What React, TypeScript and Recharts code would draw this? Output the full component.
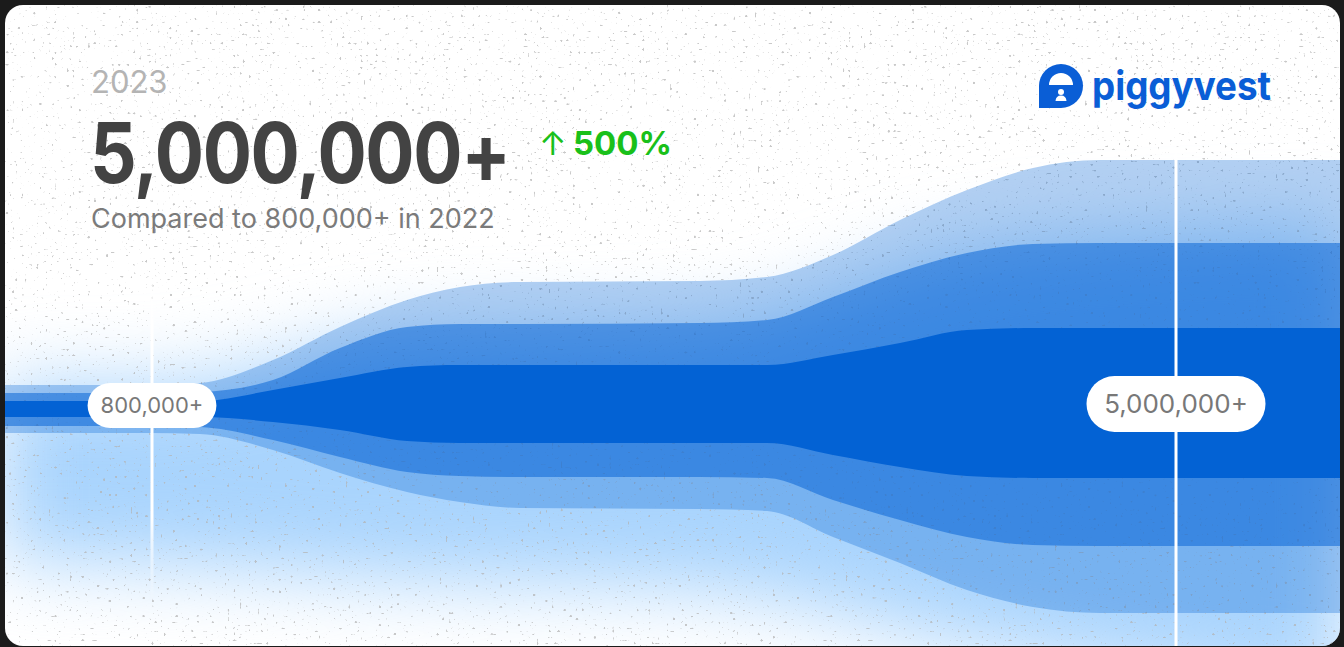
import React from "react";
import { ComposedChart, Area, XAxis, YAxis, ReferenceLine, ReferenceDot } from "recharts";

const W = 1344;
const H = 647;

// band edge positions along the timeline (heights above the floor)
const xs = [0, 150, 200, 273, 340, 407, 460, 520, 700, 767, 833, 900, 967, 1033, 1100, 1344];
const lightTop = [262, 262, 264, 287, 320, 347, 360, 365, 366, 370, 392, 427, 457, 479, 487, 487];
const midTop = [254, 254, 255, 267, 299, 320, 323, 323, 324, 327, 350, 375, 394, 403, 404, 404];
const darkTop = [246, 246, 246, 257, 269, 280, 282, 282, 282, 282, 292, 304, 317, 319, 319, 319];
const darkBottom = [230, 230, 230, 225, 217, 206, 204, 204, 204, 204, 192, 180, 171, 169, 169, 169];
const midBottom = [221, 221, 220, 207, 190, 175, 171, 170, 170, 169, 147, 127, 110, 102, 101, 101];
const lightBottom = [214, 214, 213, 197, 174, 155, 145, 139, 138, 136, 110, 84, 57, 40, 34, 34];

// soft glow behind the bands
const glowXs = [0, 150, 400, 700, 1000, 1344];
const glowTop = [262, 262, 307, 317, 397, 417];
const glowBottom = [87, 82, 67, 57, -3, -53];

// milestone markers
const markerX = [152, 1176];
const markerY = [241.5, 243];
const markerLabels = ["800,000+", "5,000,000+"];
const markerFont = [22, 26];
const markerPad = [16, 18];
const markerH = [45, 56];

// header texts
const yearLabel = "2023";
const headline = "5,000,000+";
const growthArrow = "↑";
const growth = "500%";
const subline = "Compared to 800,000+ in 2022";
const brand = "piggyvest";

const bandData = xs.map((x, i) => ({
  x,
  light: [lightBottom[i], lightTop[i]],
  mid: [midBottom[i], midTop[i]],
  dark: [darkBottom[i], darkTop[i]],
}));

const glowData = glowXs.map((x, i) => ({ x, glow: [glowBottom[i], glowTop[i]] }));

const FONT = "Inter, 'Noto Sans', sans-serif";

const makePill = (i: number) => (props: any) => {
  const { cx, cy } = props;
  const label = markerLabels[i];
  const fs = markerFont[i];
  const approxW = label.length * fs * 0.55 + markerPad[i] * 2;
  const h = markerH[i];
  return (
    <g>
      <rect x={cx - approxW / 2} y={cy - h / 2} width={approxW} height={h} rx={h / 2} fill="#ffffff" />
      <text
        x={cx}
        y={cy + fs * 0.36}
        textAnchor="middle"
        fontSize={fs}
        fontFamily={FONT}
        fill="#787878"
      >
        {label}
      </text>
    </g>
  );
};

export default function App() {
  return (
    <div style={{ position: "fixed", left: 0, top: 0, width: W, height: H, background: "#1b1b1b", overflow: "hidden" }}>
      <div
        style={{
          position: "absolute",
          left: 5,
          top: 5,
          width: 1335,
          height: 641,
          borderRadius: 18,
          overflow: "hidden",
          background: "#ffffff",
        }}
      >
        <div style={{ position: "absolute", left: -5, top: -5, width: W, height: H + 100 }}>
          {/* glow layer */}
          <div style={{ position: "absolute", left: 0, top: 0, filter: "blur(38px)" }}>
            <ComposedChart width={W} height={H + 100} data={glowData} margin={{ top: 0, right: 0, bottom: 0, left: 0 }}>
              <XAxis dataKey="x" type="number" domain={[0, W]} hide allowDataOverflow />
              <YAxis type="number" domain={[-100, H]} hide allowDataOverflow />
              <Area
                dataKey="glow"
                type="monotone"
                fill="#a9d4fd"
                fillOpacity={1}
                stroke="none"
                isAnimationActive={false}
                dot={false}
                activeDot={false}
              />
            </ComposedChart>
          </div>
          {/* grain layer */}
          <svg width={W} height={H} style={{ position: "absolute", left: 0, top: 0 }}>
            <defs>
              <filter id="grain" x="0" y="0" width="100%" height="100%">
                <feTurbulence type="fractalNoise" baseFrequency="0.33" numOctaves="1" seed="11" />
                <feColorMatrix
                  type="matrix"
                  values="0 0 0 0 0.45  0 0 0 0 0.45  0 0 0 0 0.45  16 0 0 0 -10.95"
                />
              </filter>
            </defs>
            <rect x={0} y={0} width={W} height={H} filter="url(#grain)" opacity={0.7} />
          </svg>
          {/* bands */}
          <div style={{ position: "absolute", left: 0, top: 0 }}>
            <ComposedChart width={W} height={H} data={bandData} margin={{ top: 0, right: 0, bottom: 0, left: 0 }}>
              <defs>
                <linearGradient id="fadeL" gradientUnits="userSpaceOnUse" x1="0" y1="0" x2="0" y2={H}>
                  <stop offset="0.36" stopColor="#ffffff" stopOpacity={0} />
                  <stop offset="0.5" stopColor="#ffffff" stopOpacity={1} />
                  <stop offset="0.8" stopColor="#ffffff" stopOpacity={1} />
                  <stop offset="0.93" stopColor="#ffffff" stopOpacity={0} />
                </linearGradient>
                <linearGradient id="fadeR" gradientUnits="userSpaceOnUse" x1="0" y1="0" x2="0" y2={H}>
                  <stop offset="0.17" stopColor="#ffffff" stopOpacity={0} />
                  <stop offset="0.24" stopColor="#ffffff" stopOpacity={1} />
                  <stop offset="1" stopColor="#ffffff" stopOpacity={1} />
                </linearGradient>
              </defs>
              <XAxis dataKey="x" type="number" domain={[0, W]} hide allowDataOverflow />
              <YAxis type="number" domain={[0, H]} hide allowDataOverflow />
              <Area dataKey="light" type="monotone" fill="#0362d4" fillOpacity={0.3} stroke="none" isAnimationActive={false} dot={false} activeDot={false} />
              <Area dataKey="mid" type="monotone" fill="#0362d4" fillOpacity={0.52} stroke="none" isAnimationActive={false} dot={false} activeDot={false} />
              <Area dataKey="dark" type="monotone" fill="#0362d4" fillOpacity={1} stroke="none" isAnimationActive={false} dot={false} activeDot={false} />
              <ReferenceLine x={markerX[0]} stroke="url(#fadeL)" strokeWidth={3} />
              <ReferenceLine x={markerX[1]} stroke="url(#fadeR)" strokeWidth={3} />
              <ReferenceDot x={markerX[0]} y={markerY[0]} shape={makePill(0)} />
              <ReferenceDot x={markerX[1]} y={markerY[1]} shape={makePill(1)} />
            </ComposedChart>
          </div>
          {/* header */}
          <svg width={W} height={H} style={{ position: "absolute", left: 0, top: 0 }}>
            <text x={91} y={93} fontSize={31} fontFamily={FONT} fill="#b4b4b4">{yearLabel}</text>
            <g transform="translate(90,183) scale(0.87,1)">
              <text
                x={0}
                y={0}
                fontSize={84}
                fontWeight={700}
                fontFamily={FONT}
                fill="#434343"
                letterSpacing={-1.5}
              >
                {headline}
              </text>
            </g>
            <text x={539} y={155} fontSize={33} fontFamily={FONT} fill="#19c01a">
              <tspan fontWeight={400}>{growthArrow}</tspan>
              <tspan x={573} fontWeight={700}>{growth}</tspan>
            </text>
            <text x={91} y={228} fontSize={27} fontFamily={FONT} fill="#7b7b7b">{subline}</text>
            {/* brand mark */}
            <path d="M1039,86 A22,22 0 0 1 1083,86 A22,22 0 0 1 1061,108 L1039,108 Z" fill="#0a5ed6" />
            <path d="M1049,85 A12,12 0 0 1 1073,85 Z" fill="#ffffff" />
            <circle cx={1061} cy={92} r={3} fill="#ffffff" />
            <path d="M1055.5,101 Q1056,95.5 1061,95.5 Q1066,95.5 1066.5,101 Z" fill="#ffffff" />
            <text x={1092} y={100} fontSize={40} fontWeight={700} fontFamily={FONT} fill="#0a5ed6" textLength={179} lengthAdjust="spacingAndGlyphs">
              {brand}
            </text>
          </svg>
        </div>
      </div>
    </div>
  );
}
